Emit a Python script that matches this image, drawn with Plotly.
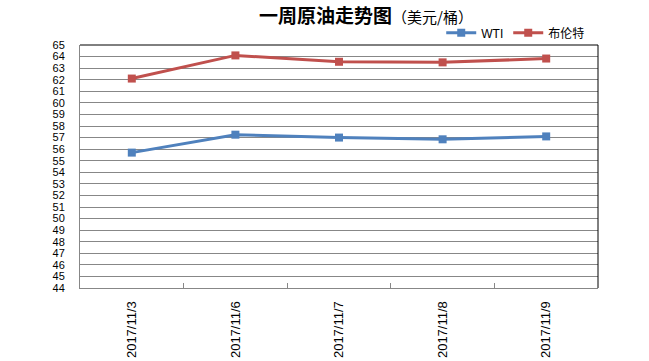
import plotly.graph_objects as go

dates = ["2017/11/3", "2017/11/6", "2017/11/7", "2017/11/8", "2017/11/9"]
wti = [55.7, 57.25, 57.0, 56.85, 57.1]
brent = [62.1, 64.1, 63.55, 63.5, 63.83]
yticks = list(range(44, 66))

fig = go.Figure()
fig.add_trace(go.Scatter(x=dates, y=wti, name="WTI", mode="lines+markers",
                         line=dict(color="#4F81BD", width=3),
                         marker=dict(symbol="square", size=8, color="#4F81BD")))
fig.add_trace(go.Scatter(x=dates, y=brent, name="布伦特", mode="lines+markers",
                         line=dict(color="#C0504D", width=3),
                         marker=dict(symbol="square", size=8, color="#C0504D")))

fig.update_layout(
    width=649, height=361,
    margin=dict(l=80, r=51, t=45, b=73, autoexpand=False),
    paper_bgcolor="white", plot_bgcolor="white",
    font=dict(family="Liberation Sans, Noto Sans CJK SC", size=12, color="black"),
    showlegend=True,
    legend=dict(orientation="h", x=0.985, xanchor="right", y=1.05, yanchor="middle",
                font=dict(size=12, family="Liberation Sans, Noto Sans CJK SC"),
                itemwidth=30, tracegroupgap=0, bgcolor="rgba(0,0,0,0)"),
    annotations=[dict(text="<b>一周原油走势图</b><span style='font-size:15px'>（美元/桶）</span>",
                      xref="paper", yref="paper", x=0.552, y=1.0, yshift=31,
                      xanchor="center", yanchor="middle", showarrow=False,
                      font=dict(size=19, family="Noto Sans CJK SC", color="black"))],
)
fig.update_xaxes(type="category", showgrid=False, showline=True, linecolor="#878787",
                 linewidth=1, ticks="inside", tickson="boundaries", ticklen=5,
                 tickcolor="#878787", tickangle=-90, tickfont=dict(size=13),
                 ticklabelstandoff=7, automargin=False,
                 range=[-0.5, 4.5], fixedrange=True)
fig.update_yaxes(range=[44, 65], tickvals=yticks, ticktext=[str(v) for v in yticks],
                 showgrid=True, gridcolor="#878787", gridwidth=1,
                 showline=True, linecolor="#878787", linewidth=1,
                 ticks="", ticklabelstandoff=12, tickfont=dict(size=11),
                 automargin=False, zeroline=False, fixedrange=True)
fig.add_shape(type="line", xref="paper", yref="paper", x0=0, x1=1, y0=1, y1=1,
              line=dict(color="black", width=1))
fig.add_shape(type="line", xref="paper", yref="paper", x0=1, x1=1, y0=0, y1=1,
              line=dict(color="black", width=1))

fig.write_html("out.html", config={"displayModeBar": False},
               post_script="document.body.style.margin='0';document.body.style.overflow='hidden';")
